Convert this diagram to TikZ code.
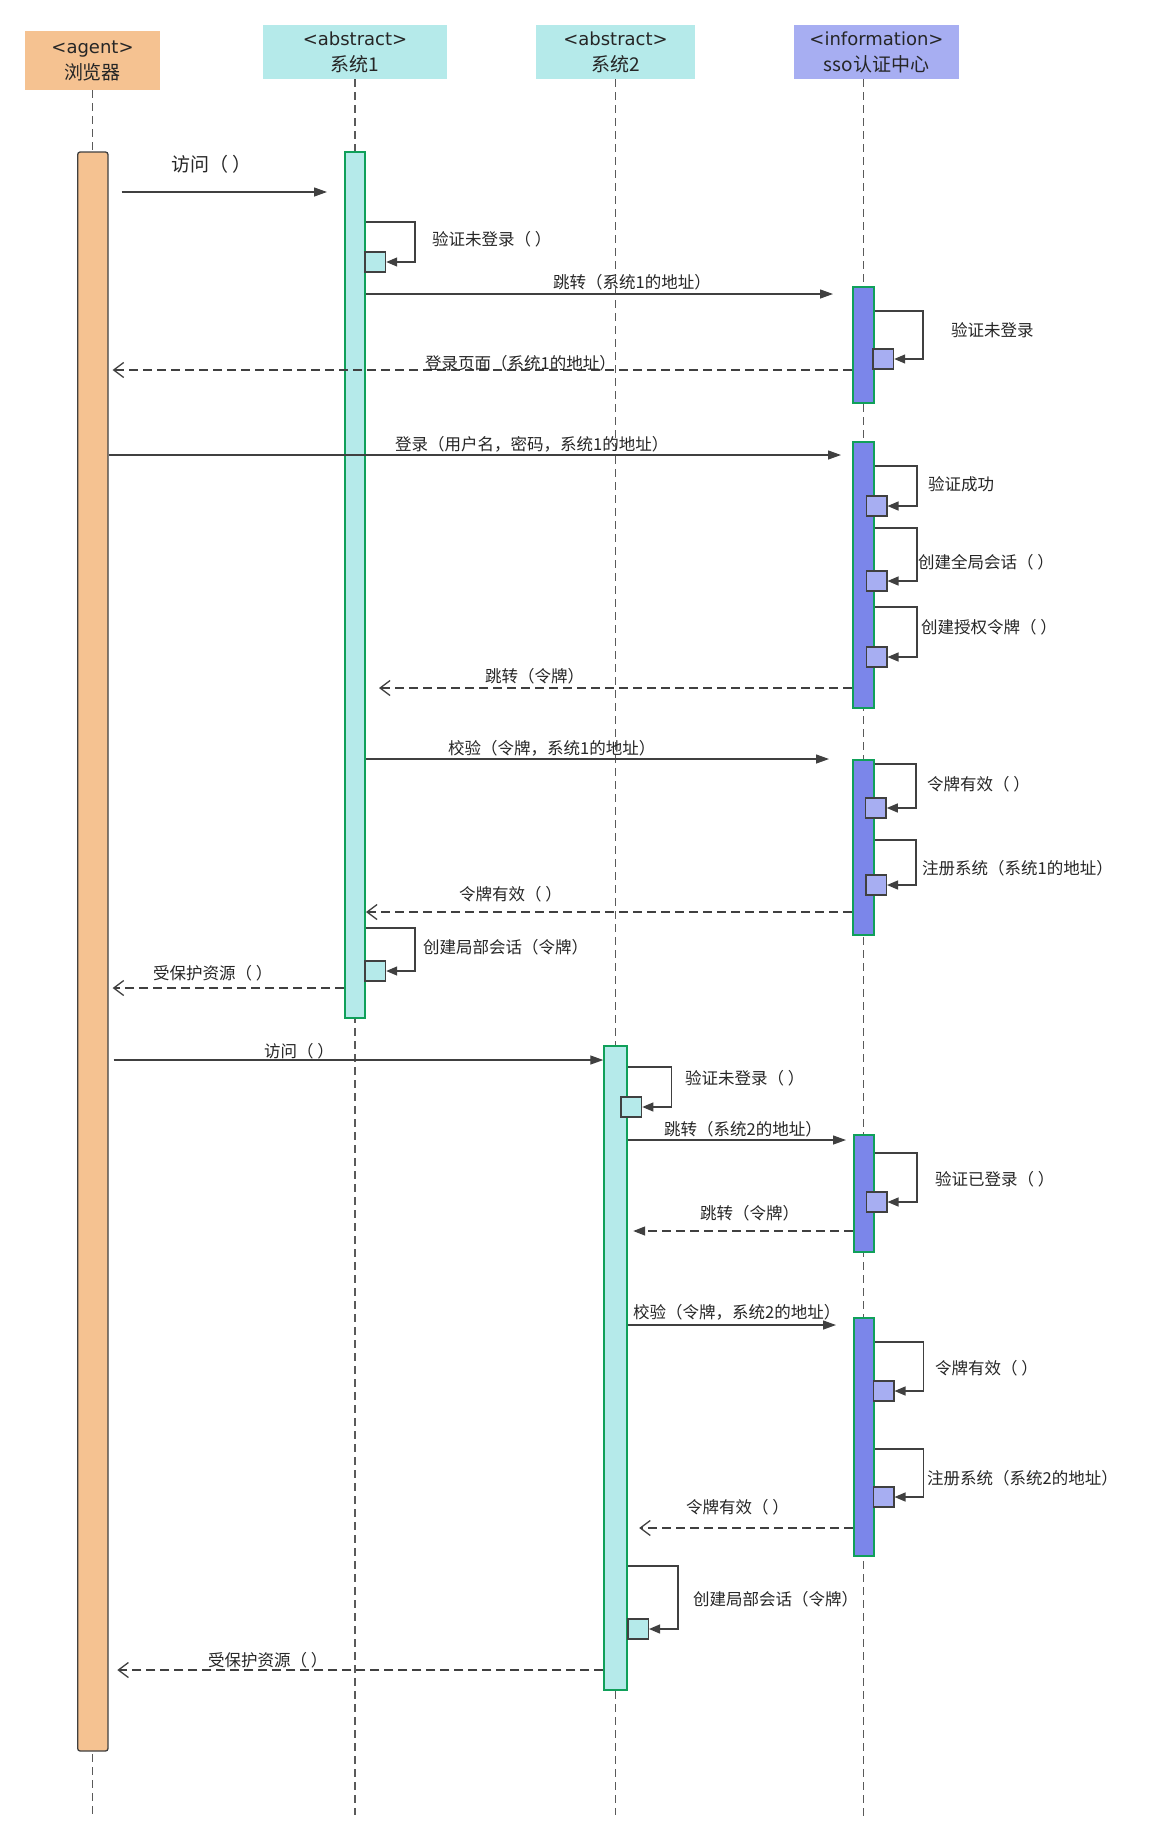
\documentclass[tikz,border=0pt]{standalone}
\usepackage{fontspec}
\setmainfont{Noto Sans CJK SC}
\newfontfamily\latf{DejaVu Sans}
\usetikzlibrary{arrows.meta}
\definecolor{peach}{HTML}{F5C291}
\definecolor{cyanf}{HTML}{B5EAEA}
\definecolor{ssohead}{HTML}{A7AEF2}
\definecolor{ssobar}{HTML}{7B86EA}
\definecolor{greenb}{HTML}{10A05A}
\definecolor{linec}{HTML}{404040}
\definecolor{lifec}{HTML}{5A5A5A}
\definecolor{txt}{HTML}{262626}
\tikzset{
  hdr/.style={rectangle, inner sep=0pt, align=center, text=txt, font=\fontsize{19}{26}\selectfont},
  life/.style={draw=lifec, line width=1.3pt, dash pattern=on 8pt off 5pt},
  actbar/.style={rectangle, inner sep=0pt, draw=greenb, line width=2pt},
  agentbar/.style={rectangle, inner sep=0pt, draw=linec, line width=1.3pt, fill=peach, rounded corners=2.5pt},
  subbox/.style={rectangle, inner sep=0pt, draw=linec, line width=1.5pt, minimum width=20.5pt, minimum height=20pt},
  msg/.style={draw=linec, line width=1.3pt, -{Triangle[length=13pt,width=9pt]}},
  retmsg/.style={draw=linec, line width=1.3pt, dash pattern=on 9pt off 5pt, -{Straight Barb[length=10pt,width=15pt]}},
  retfill/.style={draw=linec, line width=1.3pt, dash pattern=on 9pt off 5pt, -{Triangle[length=12pt,width=9pt]}},
  selfc/.style={draw=linec, line width=1.3pt, -{Triangle[length=11pt,width=9pt]}},
  lbl/.style={inner sep=0pt, anchor=west, text=txt, font=\fontsize{16.5}{19}\selectfont},
}
\begin{document}
\begin{tikzpicture}[x=1pt,y=-1pt]
\useasboundingbox (0,0) rectangle (1168,1845);
\fill[white] (0,0) rectangle (1168,1845);

% headers
\node[hdr, fill=peach, minimum width=135pt, minimum height=59pt] (agent) at (92.5,60.5) {{\latf\fontsize{18}{26}\selectfont <agent>}\\浏览器};
\node[hdr, fill=cyanf, minimum width=184pt, minimum height=54pt] (sys1) at (355,52) {{\latf\fontsize{18}{26}\selectfont <abstract>}\\系统1};
\node[hdr, fill=cyanf, minimum width=159pt, minimum height=54pt] (sys2) at (615.5,52) {{\latf\fontsize{18}{26}\selectfont <abstract>}\\系统2};
\node[hdr, fill=ssohead, minimum width=165pt, minimum height=54pt] (sso) at (876.5,52) {{\latf\fontsize{18}{26}\selectfont <information>}\\sso认证中心};

% lifeline ends
\coordinate (agentTop) at (92.5,90);
\coordinate (agentEnd) at (92.5,1817);
\coordinate (sys1Top) at (355,79);
\coordinate (sys1End) at (355,1815);
\coordinate (sys2Top) at (615.6,79);
\coordinate (sys2End) at (615.6,1815);
\coordinate (ssoTop) at (863.5,79);
\coordinate (ssoEnd) at (863.5,1819);
\draw[life] (agentTop) -- (agentEnd);
\draw[life] (sys1Top) -- (sys1End);
\draw[life] (sys2Top) -- (sys2End);
\draw[life] (ssoTop) -- (ssoEnd);

% activation bars
\node[agentbar, minimum width=30.3pt, minimum height=1599pt] (ab) at (92.85,951.5) {};
\node[actbar, fill=cyanf, minimum width=20pt, minimum height=866pt] (s1a) at (355,585) {};
\node[actbar, fill=cyanf, minimum width=22.9pt, minimum height=644pt] (s2a) at (615.75,1368) {};
\node[actbar, fill=ssobar, minimum width=21pt, minimum height=116pt] (sso1) at (863,345) {};
\node[actbar, fill=ssobar, minimum width=21pt, minimum height=266pt] (sso2) at (863,575) {};
\node[actbar, fill=ssobar, minimum width=21pt, minimum height=175pt] (sso3) at (863,847.5) {};
\node[actbar, fill=ssobar, minimum width=20.6pt, minimum height=117pt] (sso4) at (863.9,1193.5) {};
\node[actbar, fill=ssobar, minimum width=20.6pt, minimum height=238pt] (sso5) at (863.9,1437) {};

% self-call boxes
\node[subbox, fill=cyanf] (b1) at (375.2,262) {};
\node[subbox, fill=ssohead] (b2) at (883.2,359) {};
\node[subbox, fill=ssohead] (b3) at (876.5,506) {};
\node[subbox, fill=ssohead] (b4) at (876.5,581) {};
\node[subbox, fill=ssohead] (b5) at (876.5,657) {};
\node[subbox, fill=ssohead] (b6) at (875.8,808) {};
\node[subbox, fill=ssohead] (b7) at (876,885) {};
\node[subbox, fill=cyanf] (b8) at (375.2,971) {};
\node[subbox, fill=cyanf] (b9) at (631.3,1107) {};
\node[subbox, fill=ssohead] (b10) at (876.5,1202) {};
\node[subbox, fill=ssohead] (b11) at (883.5,1391) {};
\node[subbox, fill=ssohead] (b12) at (883.5,1497) {};
\node[subbox, fill=cyanf] (b13) at (638,1629) {};

% self-calls
\draw[selfc] (s1a.east |- 0,222) -| (415,262) -- (b1.east);
\draw[selfc] (sso1.east |- 0,311) -| (923,359) -- (b2.east);
\draw[selfc] (sso2.east |- 0,466) -| (917,506) -- (b3.east);
\draw[selfc] (sso2.east |- 0,528) -| (917,581) -- (b4.east);
\draw[selfc] (sso2.east |- 0,607) -| (917,657) -- (b5.east);
\draw[selfc] (sso3.east |- 0,764) -| (916,808) -- (b6.east);
\draw[selfc] (sso3.east |- 0,840) -| (916,885) -- (b7.east);
\draw[selfc] (s1a.east |- 0,928) -| (415,971) -- (b8.east);
\draw[selfc] (s2a.east |- 0,1067) -| (671.4,1107) -- (b9.east);
\draw[selfc] (sso4.east |- 0,1153) -| (917,1202) -- (b10.east);
\draw[selfc] (sso5.east |- 0,1342) -| (923.5,1391) -- (b11.east);
\draw[selfc] (sso5.east |- 0,1449) -| (923.5,1497) -- (b12.east);
\draw[selfc] (s2a.east |- 0,1566) -| (678,1629) -- (b13.east);

% messages
\draw[msg, shorten <=13pt, shorten >=17pt] (ab.east |- 0,192) -- (s1a.west |- 0,192);
\draw[msg, shorten >=18.5pt] (s1a.east |- 0,294) -- (sso1.west |- 0,294);
\draw[retmsg, shorten >=4pt] (sso1.west |- 0,370) -- (ab.east |- 0,370);
\draw[msg, shorten >=10.5pt] (ab.east |- 0,455) -- (sso2.west |- 0,455);
\draw[retmsg, shorten >=13pt] (sso2.west |- 0,688) -- (s1a.east |- 0,688);
\draw[msg, shorten >=22.5pt] (s1a.east |- 0,759) -- (sso3.west |- 0,759);
\draw[retmsg] (sso3.west |- 0,912) -- (s1a.east |- 0,912);
\draw[retmsg, shorten >=4pt] (s1a.west |- 0,988) -- (ab.east |- 0,988);
\draw[msg, shorten <=5pt] (ab.east |- 0,1060) -- (s2a.west |- 0,1060);
\draw[msg, shorten >=6.6pt] (s2a.east |- 0,1140) -- (sso4.west |- 0,1140);
\draw[retfill, shorten >=5pt] (sso4.west |- 0,1231) -- (s2a.east |- 0,1231);
\draw[msg, shorten >=16.6pt] (s2a.east |- 0,1325) -- (sso5.west |- 0,1325);
\draw[retmsg, shorten >=11pt] (sso5.west |- 0,1528) -- (s2a.east |- 0,1528);
\draw[retmsg, shorten >=8.7pt] (s2a.west |- 0,1670) -- (ab.east |- 0,1670);

% labels
\node[lbl, font=\fontsize{19}{21}\selectfont] (l1) at (171,164) {访问（ ）};
\node[lbl] (l2) at (432,239) {验证未登录（ ）};
\node[lbl] (l3) at (553,282) {跳转（系统1的地址）};
\node[lbl] (l4) at (951,330) {验证未登录};
\node[lbl] (l5) at (425,363) {登录页面（系统1的地址）};
\node[lbl] (l6) at (395,444) {登录（用户名，密码，系统1的地址）};
\node[lbl] (l7) at (928,484) {验证成功};
\node[lbl] (l8) at (918,562) {创建全局会话（ ）};
\node[lbl] (l9) at (921,627) {创建授权令牌（ ）};
\node[lbl] (l10) at (485,676) {跳转（令牌）};
\node[lbl] (l11) at (448,748) {校验（令牌，系统1的地址）};
\node[lbl] (l12) at (927,784) {令牌有效（ ）};
\node[lbl] (l13) at (922,868) {注册系统（系统1的地址）};
\node[lbl] (l14) at (459,894) {令牌有效（ ）};
\node[lbl] (l15) at (423,947) {创建局部会话（令牌）};
\node[lbl] (l16) at (153,973) {受保护资源（ ）};
\node[lbl] (l17) at (264,1051) {访问（ ）};
\node[lbl] (l18) at (685,1078) {验证未登录（ ）};
\node[lbl] (l19) at (664,1129) {跳转（系统2的地址）};
\node[lbl] (l20) at (935,1179) {验证已登录（ ）};
\node[lbl] (l21) at (700,1213) {跳转（令牌）};
\node[lbl] (l22) at (633,1312) {校验（令牌，系统2的地址）};
\node[lbl] (l23) at (935,1368) {令牌有效（ ）};
\node[lbl] (l24) at (927,1478) {注册系统（系统2的地址）};
\node[lbl] (l25) at (686,1507) {令牌有效（ ）};
\node[lbl] (l26) at (693,1599) {创建局部会话（令牌）};
\node[lbl] (l27) at (208,1660) {受保护资源（ ）};
\end{tikzpicture}
\end{document}
